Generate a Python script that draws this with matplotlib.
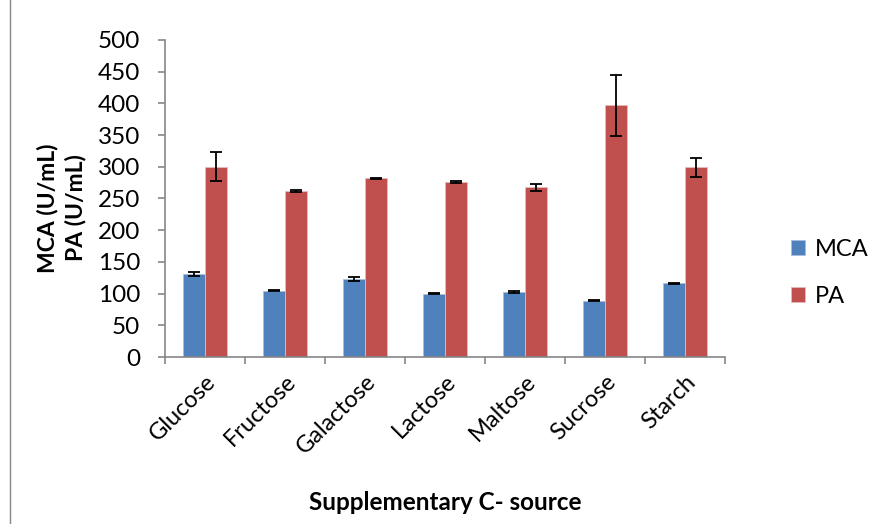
import numpy as np
import matplotlib.pyplot as plt
from matplotlib.patches import Rectangle

plt.rcParams['font.family'] = ['Lato', 'DejaVu Sans']

sources = ['Glucose', 'Fructose', 'Galactose', 'Lactose', 'Maltose', 'Sucrose', 'Starch']
mca = [131, 104.5, 123, 100, 103, 89, 116.5]
mca_err = [2.5, 1, 2.5, 1, 1.5, 0.5, 1]
pa = [300, 262, 282, 276, 268, 397, 299]
pa_err = [23, 2, 0.5, 2, 5.5, 48, 15]

fig = plt.figure(figsize=(8.89, 5.24), dpi=100)
ax = fig.add_axes([0.1856, 0.3187, 0.63, 0.605])

x = np.arange(len(sources))
w = 0.28
ekw = dict(ecolor='black', elinewidth=1.3, capsize=4.5, capthick=1.3)
ax.bar(x - w / 2, mca, w, yerr=mca_err, color='#4f81bd', edgecolor='#a7bfde',
       linewidth=0.6, label='MCA', error_kw=ekw)
ax.bar(x + w / 2, pa, w, yerr=pa_err, color='#c0504d', edgecolor='#e6b9b8',
       linewidth=0.6, label='PA', error_kw=ekw)

ax.set_xlim(-0.5, len(sources) - 0.5)
ax.set_ylim(0, 500)
ax.set_yticks(np.arange(0, 501, 50))
ax.set_xticks(x)
ax.set_xticklabels(sources, rotation=45, ha='right', rotation_mode='anchor', fontsize=17)
ax.set_xticks(np.arange(-0.5, len(sources), 1), minor=True)
ax.tick_params(axis='x', which='major', length=0, pad=10)
ax.tick_params(axis='x', which='minor', length=5, color='#868686', width=1.2)
ax.tick_params(axis='y', labelsize=17.5, length=5, color='#868686', width=1.2, pad=13)

for s in ['top', 'right']:
    ax.spines[s].set_visible(False)
for s in ['left', 'bottom']:
    ax.spines[s].set_color('#868686')
    ax.spines[s].set_linewidth(1.2)

ax.set_ylabel('MCA (U/mL)\nPA (U/mL)', fontsize=16.5, fontweight='bold', labelpad=8,
              linespacing=1.35)
ax.yaxis.label.set_y(0.47)
ax.set_xlabel('Supplementary C- source', fontsize=17.5, fontweight='bold', labelpad=24)

ax.legend(loc='center left', bbox_to_anchor=(1.08, 0.265), frameon=False, fontsize=17,
          handlelength=0.6, handleheight=0.6, labelspacing=1.1, handletextpad=0.4)

fig.patches.append(Rectangle((0.011, -0.01), 0.99, 1.02, transform=fig.transFigure,
                             fill=False, edgecolor='#868686', linewidth=1))

fig.savefig('out.png', dpi=100)
